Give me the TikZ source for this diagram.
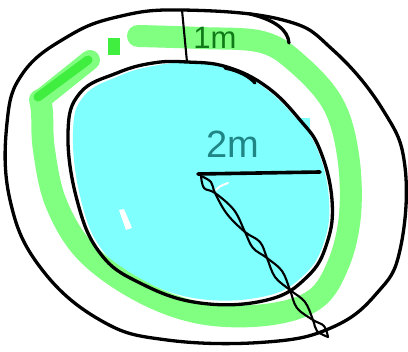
\documentclass[tikz,border=0pt]{standalone}
\usepackage{fontspec}
\setsansfont{Liberation Sans}
\definecolor{pool}{HTML}{80FFFF}
\definecolor{bandgreen}{HTML}{80FF80}
\definecolor{brightgreen}{HTML}{40EE40}
\definecolor{tealtxt}{HTML}{1F8585}
\definecolor{greentxt}{HTML}{107A18}
\begin{document}
\begin{tikzpicture}[x=1pt,y=-1pt,
  outline/.style={draw=black,line width=3.3pt,line join=round,line cap=round},
  thin/.style={draw=black,line width=2.1pt,line join=round,line cap=round},
  band/.style={draw=bandgreen,line width=22pt,line cap=round,line join=round},
  lbl/.style={font=\sffamily,inner sep=0pt}]
\useasboundingbox[fill=white] (0,0) rectangle (408,352);
% pool fill
\fill[pool] plot[smooth cycle, tension=0.7] coordinates {
  (187,63) (227,68) (266,89) (298,121) (318,151) (329,200) (324,242)
  (304,275) (266,296) (200,299) (142,280) (103,251) (81,200) (73,133)
  (84,96) (119,76) (153,66)};
\fill[pool] (292,118) rectangle (310,142);
% white gaps in pool
\draw[white,line width=2pt,line cap=round] (216,190) .. controls (220,186) .. (228,183);
\fill[white] (119,210) -- (124,209) -- (132,228) -- (126,230) -- cycle;
% green band
\draw[band] plot[smooth, tension=0.6] coordinates {
  (138,36) (200,38) (262,42) (298,64) (333,104) (348,155) (350,215)
  (338,265) (314,300) (265,315) (200,313) (140,291) (86,252) (56,203)
  (44,150) (42,112) (40,100)};
\draw[bandgreen,line width=20pt,line cap=round] (40,100) -- (90,60);
\draw[brightgreen,line width=9pt,line cap=round] (38,97) -- (88,60);
\fill[brightgreen] (108,38) rectangle (120,55);
% outer boundary
\draw[outline] plot[smooth cycle, tension=0.7] coordinates {
  (182,10) (283,20) (333,50) (383,110) (405,167) (400,250) (377,293)
  (333,327) (267,342) (167,340) (100,320) (40,267) (10,200) (7,123)
  (23,73) (67,37) (117,17)};
\draw[outline] (250,14) .. controls (275,20) and (288,30) .. (289,43);
% inner boundary
\draw[outline] plot[smooth cycle, tension=0.7] coordinates {
  (187,62) (227,67) (267,87) (300,120) (320,150) (332,200) (327,243)
  (307,277) (267,300) (200,303) (140,283) (100,253) (77,200) (68,133)
  (80,93) (117,73) (153,63)};
\draw[outline] (225,68) .. controls (240,71) and (250,77) .. (255,83);
% 1 m measure
\coordinate (o1) at (182,10);
\coordinate (i1) at (187,62);
\draw[thin] (o1) -- (i1);
\node[lbl,text=greentxt,font=\sffamily\fontsize{31}{31}\selectfont] (t1) at (215,38) {1m};
% 2 m radius
\coordinate (c) at (198,174);
\coordinate (r) at (320,172);
\draw[outline,line width=3.6pt] (c) -- (r);
\node[lbl,text=tealtxt,font=\sffamily\fontsize{38}{38}\selectfont] (t2) at (233,144) {2m};
% scribbled radius (twisted double stroke)
\coordinate (e) at (328,337);
\draw[thin] plot[smooth, tension=0.6] coordinates {
  (201,176) (211,182) (215,193) (227,214) (245,232) (260,242) (267,258)
  (275,277) (290,290) (305,302) (313,320) (317,331) (328,337)};
\draw[thin] plot[smooth, tension=0.6] coordinates {
  (201,176) (204,188) (215,193) (234,210) (245,232) (253,248) (267,258)
  (282,271) (290,290) (297,308) (313,320) (324,326) (328,337)};
\end{tikzpicture}
\end{document}
